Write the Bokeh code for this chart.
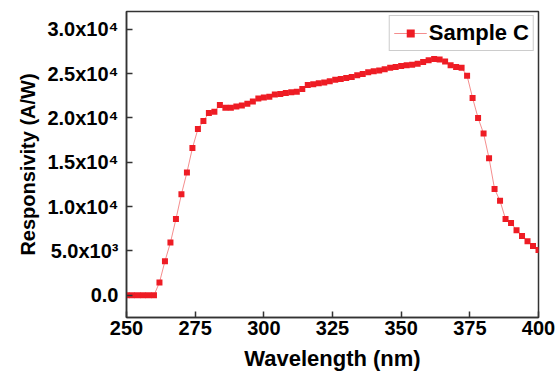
from bokeh.plotting import figure
from bokeh.models import FixedTicker, Range1d, Legend, LegendItem
from bokeh.embed import file_html
from bokeh.resources import INLINE

wavelength = list(range(250, 401, 2))
responsivity = [
    0, 0, 0, 0, 0, 0,
    1450, 3850, 5950, 8600, 11400, 13850, 16600, 18750, 19650, 20550,
    20700, 21450, 21150, 21150, 21300, 21400, 21600, 21850, 22200, 22300,
    22400, 22650, 22700, 22800, 22900, 22950, 23250, 23700, 23800, 23900,
    24000, 24150, 24300, 24400, 24500, 24620, 24800, 24950, 25150, 25250,
    25350, 25500, 25650, 25750, 25850, 25950, 26000, 26100, 26300, 26500,
    26650, 26600, 26350, 25950, 25750, 25650, 24750, 22250, 20000, 18250,
    15450, 12000, 10650, 8600, 8150, 7350, 6700, 6100, 5550, 5100,
]
x_ticks = [250, 275, 300, 325, 350, 375, 400]
y_ticks = [0, 5000, 10000, 15000, 20000, 25000, 30000]
y_tick_labels = ["0.0", "5.0x10\u00b3", "1.0x10\u2074", "1.5x10\u2074",
                 "2.0x10\u2074", "2.5x10\u2074", "3.0x10\u2074"]
series_name = "Sample C"

FONT = "Liberation Sans"
AXC = "#333333"

p = figure(width=559, height=373, output_backend="svg", toolbar_location=None,
           x_range=Range1d(250, 400), y_range=Range1d(-2500, 32000),
           min_border_left=126, min_border_right=21, min_border_top=11,
           min_border_bottom=56)
p.background_fill_color = "white"
p.border_fill_color = "white"
p.grid.visible = False
p.outline_line_color = AXC
p.outline_line_width = 1.5

line_r = p.line(wavelength, responsivity, line_color="#f06060", line_width=0.9, line_alpha=0.8)
pts_r = p.scatter(wavelength, responsivity, marker="square", size=6,
                  fill_color="#ee1c24", line_color="#ee1c24", line_width=0)

for ax in (p.xaxis[0], p.yaxis[0]):
    ax.axis_line_color = AXC
    ax.axis_line_width = 1.5
    ax.major_tick_line_color = AXC
    ax.major_tick_line_width = 1.5
    ax.major_tick_in = 6
    ax.major_tick_out = 0
    ax.minor_tick_line_color = None
    ax.major_label_text_font = FONT
    ax.major_label_text_font_style = "bold"
    ax.major_label_text_color = "black"
    ax.axis_label_text_font = FONT
    ax.axis_label_text_font_style = "bold"
    ax.axis_label_text_color = "black"

p.xaxis.ticker = FixedTicker(ticks=x_ticks)
p.yaxis.ticker = FixedTicker(ticks=y_ticks)
p.yaxis.major_label_overrides = {t: s for t, s in zip(y_ticks, y_tick_labels)}
p.xaxis.major_label_text_font_size = "20px"
p.yaxis.major_label_text_font_size = "20px"
p.xaxis.axis_label = "Wavelength (nm)"
p.yaxis.axis_label = "Responsivity (A/W)"
p.xaxis.axis_label_text_font_size = "22px"
p.yaxis.axis_label_text_font_size = "20px"
p.xaxis.major_label_standoff = 3
p.yaxis.major_label_standoff = 8
p.xaxis.axis_label_standoff = 8
p.yaxis.axis_label_standoff = 5

legend = Legend(items=[LegendItem(label=series_name, renderers=[line_r, pts_r])],
                location="top_right")
legend.label_text_font = FONT
legend.label_text_font_style = "bold"
legend.label_text_font_size = "22px"
legend.label_text_color = "black"
legend.border_line_color = "#999999"
legend.border_line_width = 1
legend.glyph_width = 33
legend.glyph_height = 20
legend.label_standoff = 2
legend.padding = 4
legend.margin = 4
legend.label_height = 20
p.add_layout(legend)

open("out.html", "w").write(file_html(p, INLINE))
